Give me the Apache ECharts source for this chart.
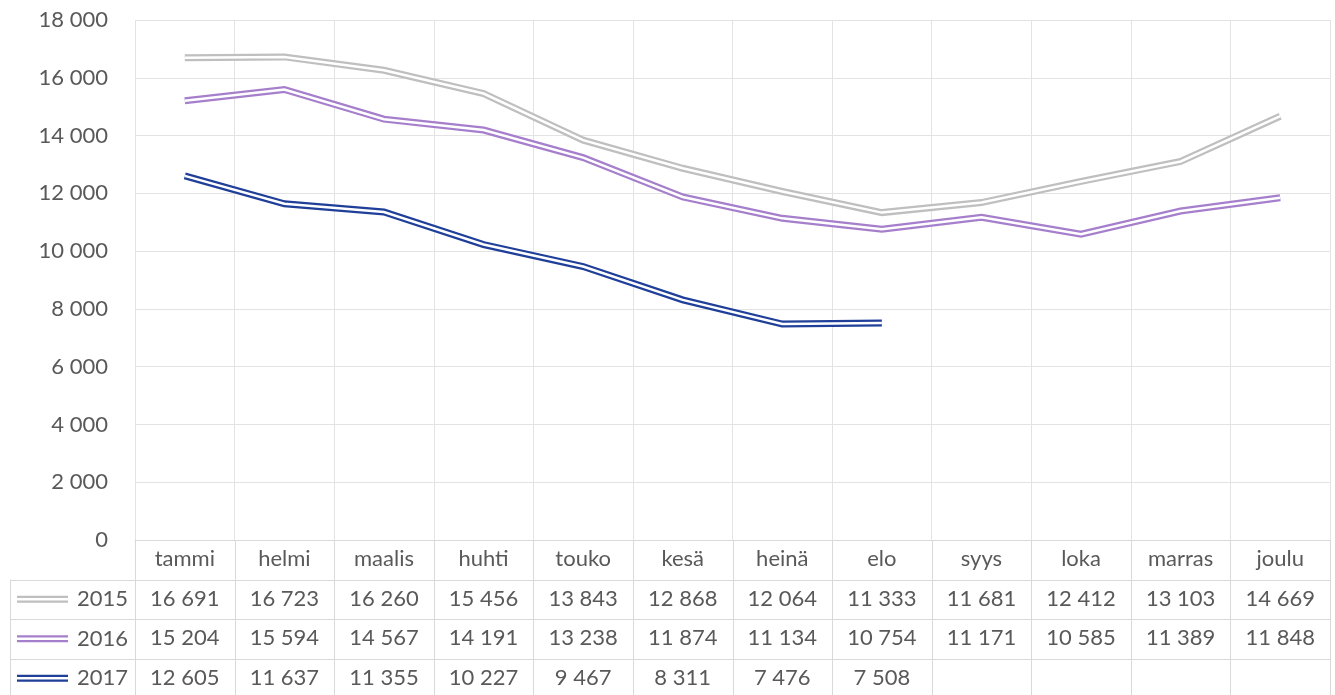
<!DOCTYPE html>
<html>
<head>
<meta charset="utf-8">
<script src="https://cdn.jsdelivr.net/npm/echarts@6/dist/echarts.min.js"></script>
<style>
  html, body { margin: 0; padding: 0; background: #fff; }
  #chart { width: 1335px; height: 695px; }
</style>
</head>
<body>
<div id="chart"></div>
<script>
// months (Finnish)
const months = ['tammi', 'helmi', 'maalis', 'huhti', 'touko', 'kesä', 'heinä', 'elo', 'syys', 'loka', 'marras', 'joulu'];

const years = ['2015', '2016', '2017'];
const values2015 = [16691, 16723, 16260, 15456, 13843, 12868, 12064, 11333, 11681, 12412, 13103, 14669];
const values2016 = [15204, 15594, 14567, 14191, 13238, 11874, 11134, 10754, 11171, 10585, 11389, 11848];
const values2017 = [12605, 11637, 11355, 10227, 9467, 8311, 7476, 7508];

const colors = ['#bfbfbf', '#a67fcc', '#1f3f99'];
const yTicks = { min: 0, max: 18000, interval: 2000 };

const FONT = 'Lato, "Open Sans", sans-serif';
const FSIZE = 22;
const TEXT = '#595959';
const GRID = '#e3e3e3';
const BORDER = '#d9d9d9';
const ROW = 39.5; // data table row height

function fmt(v) {
  if (v === null || v === undefined || v === '') return '';
  return String(v).replace(/\B(?=(\d{3})+(?!\d))/g, ' ');
}

const allValues = [values2015, values2016, values2017];

// table rows as extra category axes under the plot
function tableAxis(vals, i) {
  const labels = months.map((m, k) => fmt(vals[k]));
  return {
    type: 'category',
    data: labels,
    position: 'bottom',
    offset: ROW * (i + 1),
    axisLine: { show: false },
    axisTick: { show: false },
    splitLine: { show: false },
    axisLabel: {
      interval: 0, margin: 19, verticalAlign: 'middle',
      color: TEXT, fontSize: FSIZE, fontFamily: FONT
    }
  };
}

const series = [];
allValues.forEach((vals, i) => {
  // double line: wide coloured stroke with a thin white core
  series.push({
    name: years[i], type: 'line', data: vals, showSymbol: false, symbol: 'none',
    lineStyle: { color: colors[i], width: 7, join: 'miter', cap: 'butt' },
    z: 2 + i * 2, silent: true
  });
  series.push({
    name: years[i] + '_core', type: 'line', data: vals, showSymbol: false, symbol: 'none',
    lineStyle: { color: '#ffffff', width: 2.5, join: 'miter', cap: 'butt' },
    z: 3 + i * 2, silent: true
  });
});

const chart = echarts.init(document.getElementById('chart'));
chart.setOption({
  animation: false,
  backgroundColor: '#ffffff',
  grid: { left: 135, right: 5, top: 20, bottom: 155, containLabel: false },
  xAxis: [
    {
      type: 'category',
      data: months,
      boundaryGap: true,
      axisLine: { show: true, lineStyle: { color: BORDER, width: 1 } },
      axisTick: { show: false },
      splitLine: { show: true, interval: 0, lineStyle: { color: GRID, width: 1 } },
      axisLabel: {
        interval: 0, margin: 19, verticalAlign: 'middle',
        color: TEXT, fontSize: FSIZE, fontFamily: FONT
      }
    },
    tableAxis(values2015, 0),
    tableAxis(values2016, 1),
    tableAxis(values2017, 2)
  ],
  yAxis: {
    type: 'value',
    min: yTicks.min, max: yTicks.max, interval: yTicks.interval,
    axisLine: { show: false },
    axisTick: { show: false },
    splitLine: { lineStyle: { color: GRID, width: 1 } },
    axisLabel: {
      margin: 27, color: TEXT, fontSize: FSIZE, fontFamily: FONT,
      formatter: fmt
    }
  },
  series: series
});

// data table borders + legend keys
function drawTable() {
  const y0 = chart.convertToPixel({ yAxisIndex: 0 }, 0);
  const xs = months.map((m) => chart.convertToPixel({ xAxisIndex: 0 }, m));
  const band = xs[1] - xs[0];
  const left = 10;
  const x0 = xs[0] - band / 2;
  const x1 = xs[xs.length - 1] + band / 2;
  const els = [];
  const line = (a, b, c, d) => els.push({
    type: 'line', silent: true,
    shape: { x1: a, y1: b, x2: c, y2: d },
    style: { stroke: BORDER, lineWidth: 1 }
  });
  // vertical separators through the table
  for (let k = 0; k <= months.length; k++) {
    const x = Math.round(x0 + k * band) + 0.5;
    line(x, y0, x, y0 + ROW * 4);
  }
  line(left + 0.5, y0 + ROW, left + 0.5, y0 + ROW * 4);
  for (let r = 1; r <= 3; r++) {
    const y = Math.round(y0 + ROW * r) + 0.5;
    line(left, y, x1, y);
  }
  line(left, Math.round(y0 + ROW * 4) - 0.5, x1, Math.round(y0 + ROW * 4) - 0.5);
  // legend keys
  years.forEach((yr, i) => {
    const cy = y0 + ROW * (i + 1) + ROW / 2;
    els.push({
      type: 'line', silent: true,
      shape: { x1: 17, y1: cy, x2: 68, y2: cy },
      style: { stroke: colors[i], lineWidth: 7 }
    });
    els.push({
      type: 'line', silent: true,
      shape: { x1: 17, y1: cy, x2: 68, y2: cy },
      style: { stroke: '#ffffff', lineWidth: 2.5 }
    });
    els.push({
      type: 'text', silent: true,
      style: {
        x: 128, y: cy, text: yr, align: 'right', verticalAlign: 'middle',
        fill: TEXT, fontSize: FSIZE, fontFamily: FONT
      }
    });
  });
  chart.setOption({ graphic: { elements: els } });
}
drawTable();
</script>
</body>
</html>
